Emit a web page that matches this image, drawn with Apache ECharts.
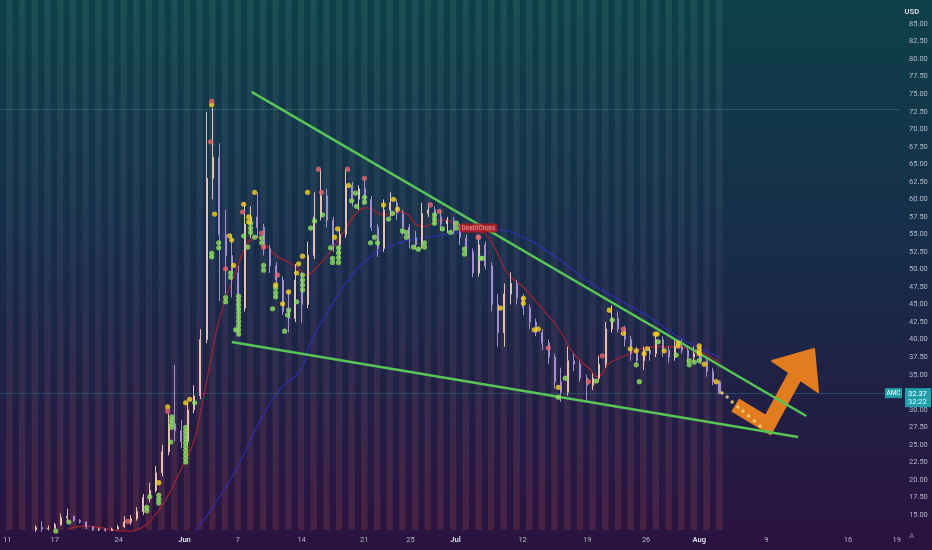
<!DOCTYPE html>
<html><head><meta charset="utf-8">
<script src="https://cdn.jsdelivr.net/npm/echarts@6/dist/echarts.min.js"></script>
<style>html,body{margin:0;padding:0;background:#16263f;}#c{width:932px;height:550px;}</style>
</head><body><div id="c"></div>
<script>
// ---------- DATA (bar-slot index on x, price in USD on y) ----------
const firstCandleSlot = 5;
// [open, close, low, high]
const ohlc = [
[12.9,13.2,12.6,13.5],[13.2,13.0,12.6,14.1],[13.0,13.1,12.8,13.5],[13.1,13.6,13.0,13.9],[13.6,14.6,13.5,15.2],
[14.6,14.8,14.0,15.9],[14.8,14.2,14.0,14.9],[14.2,14.0,13.8,14.4],[14.0,13.3,13.0,14.1],[13.3,12.9,12.7,13.4],
[12.9,13.0,12.7,13.2],[13.0,12.8,12.6,13.1],[12.8,13.0,12.7,13.2],[13.0,13.3,12.9,13.6],[13.3,14.0,13.2,14.8],
[14.0,14.5,13.6,15.0],[14.5,15.5,14.2,16.1],[15.5,17.5,15.0,18.0],[17.5,18.5,16.8,19.6],[18.5,21.0,18.2,22.0],
[21.0,24.0,20.5,25.0],[24.0,28.0,23.5,29.5],[28.0,27.0,25.5,36.4],[27.0,25.5,24.5,28.5],[25.5,30.0,25.0,31.0],
[30.0,32.0,29.5,33.5],[32.0,40.0,31.5,41.5],[40.0,63.0,39.5,72.5],[63.0,66.0,60.0,73.0],[66.0,55.0,45.5,68.0],
[55.0,52.0,46.5,58.5],[52.0,49.5,46.0,55.0],[49.5,44.5,40.5,50.5],[44.5,56.5,44.0,59.5],[56.5,57.5,54.5,59.0],
[57.5,56.0,54.5,61.0],[56.0,53.0,52.0,56.5],[53.0,50.5,49.5,53.5],[50.5,48.5,47.5,51.0],[48.5,44.0,43.5,49.0],
[44.0,43.0,41.0,46.8],[43.0,48.5,42.5,50.8],[48.5,45.0,42.4,49.6],[45.0,52.0,44.5,54.0],[52.0,57.5,51.5,61.0],
[57.5,60.5,57.0,64.3],[60.5,57.0,56.0,61.5],[57.0,53.5,52.5,57.5],[53.5,55.0,51.5,56.0],[55.0,62.0,54.5,64.3],
[62.0,60.0,59.0,62.5],[60.0,61.5,58.5,62.0],[61.5,60.0,59.5,63.0],[60.0,56.0,55.5,60.5],[56.0,53.0,51.8,56.5],
[53.0,58.5,52.5,60.0],[58.5,59.5,57.5,61.0],[59.5,58.0,57.0,60.0],[58.0,56.0,55.0,58.5],[56.0,54.5,53.0,56.5],
[54.5,53.5,52.8,55.5],[53.5,58.0,53.0,59.5],[58.0,58.5,57.5,59.5],[58.5,57.5,56.5,59.0],[57.5,56.5,55.5,58.3],
[56.5,57.0,55.2,57.5],[57.0,55.5,55.0,57.5],[55.5,54.5,53.5,56.5],[54.5,52.5,52.0,55.0],[52.5,49.5,48.9,53.0],
[49.5,53.5,49.0,54.8],[53.5,50.5,50.0,54.0],[50.5,45.0,44.0,51.0],[45.0,41.0,39.0,46.5],[41.0,46.5,39.0,48.0],
[46.5,48.0,45.0,49.6],[48.0,46.0,45.0,48.5],[46.0,44.5,43.5,46.5],[44.5,42.5,41.5,45.0],[42.5,41.0,40.5,43.0],
[41.0,39.5,38.5,41.5],[39.5,37.5,36.5,40.0],[37.5,34.0,33.0,38.0],[34.0,32.5,31.1,36.0],[32.5,37.0,32.0,39.0],
[37.0,36.5,35.5,38.0],[36.5,34.5,34.0,37.0],[34.5,33.5,31.1,35.0],[33.5,34.5,32.8,35.2],[34.5,36.5,34.0,37.7],
[36.5,41.5,36.0,42.5],[41.5,43.0,41.0,44.9],[43.0,41.5,41.0,44.0],[41.5,40.0,39.0,42.0],[40.0,38.0,37.0,40.5],
[38.0,37.0,36.5,39.0],[37.0,38.5,35.7,39.0],[38.5,38.0,37.0,39.0],[38.0,40.0,37.5,41.0],[40.0,38.5,37.5,40.5],
[38.5,37.5,36.7,39.0],[37.5,39.0,37.0,40.0],[39.0,38.5,38.0,40.0],[38.5,37.5,36.7,39.0],[37.5,38.0,36.8,39.0],
[38.0,37.0,36.5,39.0],[37.0,35.5,34.7,37.5],[35.5,34.0,33.5,36.0],[34.0,32.37,32.2,34.2]
];
const timeLabelSlots = [0.5, 8, 18.1, 28.5, 36.9, 47, 56.9, 64.2, 71.3, 81.9, 92.1, 101.4, 109.8, 120.4, 133.3, 141];
const timeLabelTexts = ['11','17','24','Jun','7','14','21','25','Jul','12','19','26','Aug','9','16','19'];
const monthLabels = ['Jun','Jul','Aug'];

const redMA = [[10.07,13.0],[12.6,13.4],[15.3,13.2],[17.3,12.8],[19.5,12.7],[21.6,13.1],[23.6,14.7],[25.8,17.6],
[27.9,21.4],[29.9,25.3],[31.1,30.0],[32.2,35.0],[33.7,41.8],[35.3,46.6],[36.9,50.4],[38.5,53.8],[40.0,54.6],
[41.6,53.2],[43.2,51.8],[44.8,51.1],[46.8,49.9],[47.3,49.2],[50.5,51.4],[53.1,54.6],[55.8,58.2],[57.4,58.8],
[59.9,57.8],[62.6,58.2],[66.2,56.1],[69.4,57.1],[72.1,56.1],[74.8,55.6],[76.8,54.2],[79.5,49.5],[82.0,47.5],
[84.7,44.7],[87.4,41.8],[89.9,38.1],[92.6,35.7],[93.7,34.7],[95.7,36.7],[98.4,37.8],[101.0,38.8],[103.6,39.0],
[107.9,38.8],[110.4,38.1],[113.1,36.7]];
const blueMA = [[30.3,12.9],[33.7,17.1],[37.4,22.8],[40.8,29.0],[43.7,33.0],[46.8,35.7],[48.4,39.5],[51.6,44.7],
[54.7,48.9],[57.9,51.8],[61.0,53.3],[64.2,54.2],[68.9,54.9],[73.7,55.5],[77.9,55.6],[82.0,54.6],[86.3,52.3],
[89.9,49.9],[92.6,48.1],[97.3,45.6],[102.1,43.1],[106.8,40.2],[109.9,38.8],[113.1,37.4]];

const greenDots = [[8.18,12.7],[10.23,14.0],[22.54,16.1],[22.54,15.6],[23.01,17.6],[24.43,17.85],[24.43,17.25],[24.43,16.7],[26.32,25.4],
[26.48,29.0],[26.48,28.5],[26.48,28.0],[26.48,27.5],
[28.69,27.5],[28.69,26.95],[28.69,26.4],[28.69,25.85],[28.69,25.3],[28.69,24.75],[28.69,24.2],[28.69,23.65],[28.69,23.1],[28.69,22.55],
[30.11,31.0],[32.79,52.3],[32.79,51.8],[33.9,53.8],[33.9,53.1],[35.0,46.0],[35.0,45.4],[35.79,49.5],[35.79,48.9],[36.58,41.4],
[37.05,46.2],[37.05,45.6],[37.05,45.0],[37.05,44.4],[37.05,43.8],[37.05,43.2],[37.05,42.6],[37.05,42.0],[37.05,41.4],[37.05,40.8],
[37.84,54.8],[38.47,53.2],[38.94,56.6],[38.94,55.9],[38.94,55.3],[39.58,54.6],[40.68,54.5],[40.68,53.8],[40.99,50.6],[40.99,49.9],
[42.42,44.4],[42.89,47.4],[42.89,46.7],[42.89,46.1],[44.31,41.2],[44.78,43.5],[44.94,44.2],[46.2,45.4],
[47.15,49.2],[47.15,48.5],[47.15,47.8],[47.15,47.1],[48.41,55.9],[49.04,56.9],[50.3,57.8],[51.57,53.1],[51.88,51.6],[51.88,51.0],
[52.83,53.1],[52.83,52.4],[52.83,51.7],[52.83,51.0],[54.88,59.8],[55.51,60.9],[55.67,59.0],[56.93,60.3],[56.93,59.6],
[57.88,53.8],[58.51,54.6],[58.98,53.8],[60.72,57.2],[61.35,58.0],[62.93,55.5],[63.56,55.3],[63.56,54.6],[64.66,53.2],[65.45,52.9],
[66.4,53.8],[66.4,53.2],[67.98,57.8],[67.98,57.2],[67.98,56.6],[69.24,55.8],[70.5,55.3],[71.45,56.6],[71.45,55.9],[72.71,52.9],[72.71,52.2],
[75.23,51.6],[75.55,51.6],[87.54,31.8],[88.64,34.5],[93.53,34.1],[96.06,42.8],[99.85,36.4],[100.32,34.0],[103.32,39.7],[106.16,37.8],
[108.21,37.0],[108.21,36.4],[109.0,36.8],[109.79,37.0]];
const yellowDots = [[24.43,19.6],[25.85,30.4],[28.69,31.0],[29.32,31.5],[32.79,73.5],[33.26,57.9],[35.63,54.8],[35.95,54.2],[36.26,50.6],
[37.84,59.3],[38.63,57.5],[38.63,56.8],[39.58,61.0],[42.89,47.8],[43.99,45.1],[44.94,46.8],[46.2,49.5],[46.52,50.8],[47.15,51.9],
[47.94,61.0],[52.2,54.6],[52.67,55.8],[54.41,62.0],[59.93,59.2],[61.51,60.0],[62.14,58.6],[78.39,44.5],[82.02,45.9],[82.02,45.2],
[83.75,41.4],[84.38,41.5],[87.54,33.2],[95.59,44.2],[97.8,40.9],[98.9,38.7],[99.85,38.4],[101.1,38.0],[101.58,38.7],[102.84,40.8],
[103.16,40.8],[104.26,38.4],[106.47,39.5],[106.47,39.1],[109.79,39.1],[109.79,38.5],[109.79,38.0],[110.58,36.5],[112.47,34.0]];
const redDots = [[19.54,14.1],[25.85,29.8],[32.63,68.2],[32.79,74.0],[35.0,50.1],[37.68,58.2],[40.68,55.2],[40.99,53.2],[43.2,49.2],
[49.67,64.3],[50.15,61.0],[54.25,64.3],[56.93,63.0],[67.34,59.2],[68.76,58.3],[74.92,54.6],[85.96,38.8],[92.27,34.0],[94.48,37.7],[97.8,41.5]];

const upperTrend = [[39.1,75.31],[126.7,29.11]];
const lowerTrend = [[35.95,39.66],[125.4,26.12]];
const projectionDots = [[113.4,32.39],[114.2,31.82],[115.0,31.11],[115.9,30.39],[116.7,29.82],[117.6,29.11],[118.5,28.4],[119.4,27.69]];
const arrowShaft = [[115.47,30.68],[120.67,27.83],[125.25,35.39]];
const arrowHead = [[121.3,36.95],[127.93,38.66],[128.56,32.53]];
const deathCross = {name:'DeathCross', point:[74.92,54.6]};
const symbolName = 'AMC';
const symbolLabelSlot = 140.47;
const lastPrice = 32.37;
const countdown = '32:22';
const prevHighLine = 72.8;

// ---------- CHART ----------
const chart = echarts.init(document.getElementById('c'), null, {renderer:'canvas'});
const FONT = 'Roboto, "Liberation Sans", sans-serif';
const candles = ohlc.map((r,i)=>[firstCandleSlot+i, r[0], r[1], r[2], r[3]]);
const stripeGrad = new echarts.graphic.LinearGradient(0,0,0,1,[
  {offset:0,color:'rgba(120,185,160,0.12)'},{offset:0.55,color:'rgba(140,110,150,0.12)'},{offset:1,color:'rgba(200,90,70,0.20)'}]);
const TEAL = '#1ea0aa';

const option = {
  animation:false,
  backgroundColor:{type:'linear',x:0,y:0,x2:0,y2:1,colorStops:[
    {offset:0,color:'#0e4049'},{offset:0.45,color:'#172d4a'},{offset:1,color:'#2b1240'}]},
  textStyle:{fontFamily:FONT},
  title:[
    {text:'USD', right:8, top:3, textStyle:{color:'#d4d8e0', fontSize:7.5, fontWeight:'bold', fontFamily:FONT}},
    {text:'A', right:13, bottom:5, textStyle:{color:'#8a90a0', fontSize:7, fontWeight:'normal', fontFamily:FONT}}
  ],
  grid:[
    {left:0, right:32, top:6.47, bottom:17.5},
    {left:0, width:722.5, top:0, bottom:20}
  ],
  xAxis:[
    {type:'value', gridIndex:0, min:-0.5, max:141.5,
     axisLine:{show:false}, axisTick:{show:false}, splitLine:{show:false},
     axisLabel:{customValues:timeLabelSlots, margin:4, color:'#b3b8c4', fontSize:7.5, fontFamily:FONT,
       formatter:(v)=>{const i=timeLabelSlots.findIndex(s=>Math.abs(s-v)<1e-6); if(i<0) return '';
         const t=timeLabelTexts[i]; return monthLabels.includes(t)?'{m|'+t+'}':t;},
       rich:{m:{color:'#d6dae2', fontSize:7.5, fontWeight:'bold', fontFamily:FONT}}}},
    {type:'value', gridIndex:1, min:0, max:114, interval:1,
     axisLine:{show:false}, axisTick:{show:false}, axisLabel:{show:false}, splitLine:{show:false},
     splitArea:{show:true, areaStyle:{color:['rgba(0,0,0,0)', stripeGrad]}}}
  ],
  yAxis:[
    {type:'value', gridIndex:0, position:'right', min:12.5, max:87.5, interval:2.5,
     axisLine:{show:false}, axisTick:{show:false}, splitLine:{show:false},
     axisLabel:{margin:9, color:'#b3b8c4', fontSize:7.5, fontFamily:FONT, showMinLabel:false, showMaxLabel:false,
       formatter:(v)=>v.toFixed(2)}},
    {type:'value', gridIndex:1, show:false, min:0, max:1}
  ],
  series:[
    {type:'line', name:'MA long', data:blueMA, showSymbol:false, smooth:true, z:3,
     lineStyle:{color:'#3030cc', width:1.4, type:[2,1]}},
    {type:'line', name:'MA short', data:redMA, showSymbol:false, smooth:true, z:3,
     lineStyle:{color:'#a3222f', width:1.2}},
    {type:'candlestick', name:'AMC', data:candles, encode:{x:0, y:[1,2,3,4]}, barWidth:1.6, z:4,
     itemStyle:{color:'#e6bfae', color0:'#a38ccf', borderColor:'#e6bfae', borderColor0:'#a38ccf', borderWidth:1},
     markLine:{symbol:['none','none'], silent:true, animation:false,
       data:[
        {yAxis:prevHighLine, lineStyle:{type:'dotted', color:'rgba(150,185,195,0.45)', width:1}, label:{show:false}},
        {yAxis:lastPrice, lineStyle:{type:'dotted', color:'rgba(40,160,170,0.7)', width:1},
         label:{show:true, position:'end', distance:5,
           formatter:'{e|}\n{a|'+lastPrice.toFixed(2)+'}\n{b|'+countdown+'}',
           rich:{
             e:{height:9, lineHeight:9},
             a:{color:'#ffffff', fontSize:7.5, fontFamily:FONT, backgroundColor:TEAL, width:20, height:9, lineHeight:9, padding:[1,3,0,3], align:'left'},
             b:{color:'#e6fafa', fontSize:7.5, fontFamily:FONT, backgroundColor:TEAL, width:20, height:9, lineHeight:9, padding:[0,3,1,3], align:'left', textDecoration:'underline'}
           }}}
       ]},
     markPoint:{silent:true, animation:false,
       data:[{coord:[symbolLabelSlot,lastPrice], symbol:'rect', symbolSize:[17,10], itemStyle:{color:TEAL},
         label:{show:true, position:'inside', formatter:symbolName, color:'#ffffff', fontSize:6.5, fontFamily:FONT}}]}
    },
    {type:'line', name:'upper trend', data:upperTrend, showSymbol:false, z:6,
     lineStyle:{color:'#58c456', width:2.6}},
    {type:'line', name:'lower trend', data:lowerTrend, showSymbol:false, z:6,
     lineStyle:{color:'#58c456', width:2.6}},
    {type:'scatter', name:'green', data:greenDots, symbolSize:5.2, z:7, itemStyle:{color:'#8fe060'}},
    {type:'scatter', name:'yellow', data:yellowDots, symbolSize:5.2, z:7, itemStyle:{color:'#f6d21f'}},
    {type:'scatter', name:'red', data:redDots, symbolSize:5.2, z:7, itemStyle:{color:'#e8676b'}},
    {type:'scatter', name:'deathcross', data:[deathCross.point], symbolSize:5.2, z:8, itemStyle:{color:'#e8676b'},
     label:{show:true, position:'top', distance:2, formatter:deathCross.name, fontSize:6.5, fontFamily:FONT,
       color:'#f3c4c4', backgroundColor:'#c3161d', padding:[1,2], borderRadius:2}},
    {type:'scatter', name:'projection', data:projectionDots, symbolSize:3.4, z:9, itemStyle:{color:'#ffe27a'}},
    {type:'custom', name:'arrow', z:5, data:[arrowShaft[0]],
     renderItem:(params, api)=>{
       const shaft = arrowShaft.map(p=>api.coord(p));
       const head = arrowHead.map(p=>api.coord(p));
       return {type:'group', children:[
         {type:'polyline', shape:{points:shaft}, style:{stroke:'#e17d1e', lineWidth:15, fill:null, lineJoin:'miter', lineCap:'butt'}},
         {type:'polygon', shape:{points:head}, style:{fill:'#e17d1e', stroke:'#e17d1e', lineWidth:2, lineJoin:'round'}}
       ]};
     }}
  ]
};
chart.setOption(option);
</script></body></html>
